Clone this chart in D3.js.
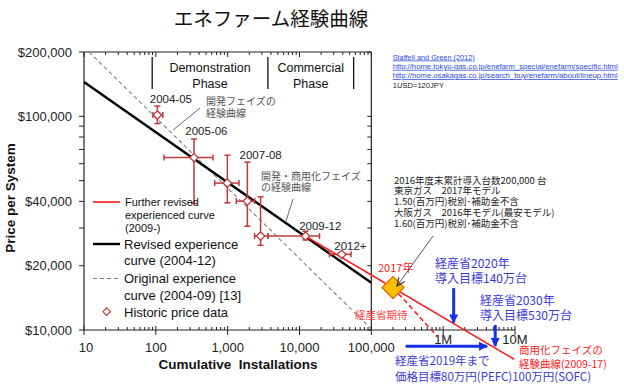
<!DOCTYPE html>
<html><head><meta charset="utf-8">
<script src="https://cdn.jsdelivr.net/npm/d3@7"></script>
<style>body{margin:0;background:#fff}svg{display:block}</style>
</head><body><svg id="c" width="624" height="389"></svg>
<script>
// ---------- DATA ----------
const histInstall   = [105, 340, 990, 1880, 2870, 12100, 38700];
const histPrice     = [101400, 64100, 48700, 40100, 27500, 27500, 22600];
const histInstallLo = [91, 130, 660, 1320, 2370, 3630, 26100];
const histInstallHi = [125, 625, 1435, 2370, 3630, 19000, 52200];
const histPriceLo   = [92500, 39100, 39400, 30600, 24900, 26400, 22200];
const histPriceHi   = [111700, 78300, 65800, 61000, 42000, 29000, 23000];
const yearLabels    = ["2004-05", "2005-06", "", "2007-08", "", "2009-12", "2012+"];

const revisedX  = [10, 100000];      const revisedY  = [144600, 16640];
const originalX = [10, 100000];      const originalY = [211000, 10100];
const furtherX  = [12100, 9700000];  const furtherY  = [27500, 7300];
const expectX   = [200000, 834000];  const expectY   = [15800, 9300];
const point2017 = [200000, 15800];

const phaseBounds = [89, 3630, 56700];
const phaseNames  = [["Demonstration", "Phase"], ["Commercial", "Phase"]];

const target2020Install = 1400000; const target2020From = 15700;
const target2030Install = 5300000; const target2030From = 10550;
const priceTarget2019 = 8400; const priceTargetX = [300000, 4100000];

const yTickVals = [10000, 20000, 40000, 100000, 200000];
const xTickVals = [10, 100, 1000, 10000, 100000];
const xExtTickVals = [1000000, 10000000];
const xExtTickLabels = ["1M", "10M"];

const infoLines = ["2016年度末累計導入台数200,000 台", "東京ガス　2017年モデル", "1.50(百万円)税別･補助金不含", "大阪ガス　2016年モデル(最安モデル)", "1.60(百万円)税別･補助金不含"];
const refLines = ["Staffell and Green (2012)", "http://home.tokyo-gas.co.jp/enefarm_special/enefarm/specific.html", "http://home.osakagas.co.jp/search_buy/enefarm/about/lineup.html"];

// ---------- CHART ----------
const svg = d3.select("#c");
const SANS = "'Liberation Sans', Arial, sans-serif";
const JP = "'Noto Sans CJK JP', sans-serif";
const x = d3.scaleLog().domain([10, 1e7]).range([84, 515]);
const y = d3.scaleLog().domain([1e4, 2e5]).range([330, 52]);
const X0 = x(10), X1 = x(1e5), Y0 = y(1e4), Y1 = y(2e5);
const red = "#ff1a1a", hist = "#c0393b", blueA = "#1530e8", blueT = "#3b3bd6";

const defs = svg.append("defs");
defs.append("clipPath").attr("id", "plot").append("rect")
  .attr("x", X0).attr("y", Y1).attr("width", X1 - X0).attr("height", Y0 - Y1);
defs.append("marker").attr("id", "bh").attr("viewBox", "0 0 10 10").attr("refX", 9).attr("refY", 5)
  .attr("markerWidth", 3).attr("markerHeight", 3.3).attr("orient", "auto")
  .append("path").attr("d", "M0,0L10,5L0,10Z").attr("fill", blueA);
defs.append("marker").attr("id", "gh").attr("viewBox", "0 0 10 10").attr("refX", 9).attr("refY", 5)
  .attr("markerWidth", 9).attr("markerHeight", 9).attr("markerUnits", "userSpaceOnUse").attr("orient", "auto")
  .append("path").attr("d", "M0,1L9,5L0,9").attr("fill", "none").attr("stroke", "#333").attr("stroke-width", 1.3);

// title
svg.append("text").attr("x", 271).attr("y", 26).attr("text-anchor", "middle")
  .attr("font-family", JP).attr("font-size", 19.5).attr("fill", "#111").text("エネファーム経験曲線");

// frame
const frame = svg.append("g").attr("stroke", "#222").attr("stroke-width", 1.2).attr("fill", "none");
frame.append("line").attr("x1", X0).attr("x2", X0).attr("y1", Y1).attr("y2", Y0);
frame.append("line").attr("x1", X0).attr("x2", X1).attr("y1", Y1).attr("y2", Y1);
frame.append("line").attr("x1", X1).attr("x2", X1).attr("y1", Y1).attr("y2", Y0);
frame.append("line").attr("x1", X0).attr("x2", x(1e7)).attr("y1", Y0).attr("y2", Y0);

// log ticks
const allX = [], allY = [];
for (let d = 10; d < 1e7; d *= 10) for (let k = 1; k < 10; k++) allX.push(d * k);
allX.push(1e7);
for (let d = 1e4; d < 2e5; d *= 10) for (let k = 1; k < 10; k++) if (d * k <= 2e5) allY.push(d * k);
const isMajX = v => Math.abs(Math.log10(v) - Math.round(Math.log10(v))) < 1e-9;
const tk = svg.append("g").attr("stroke", "#222").attr("stroke-width", 1);
allX.forEach(v => {
  const px = x(v), maj = isMajX(v);
  tk.append("line").attr("x1", px).attr("x2", px).attr("y1", Y0 + (maj ? 5 : 0)).attr("y2", Y0 - (maj ? 4 : 3));
  if (v <= 1e5) tk.append("line").attr("x1", px).attr("x2", px).attr("y1", Y1).attr("y2", Y1 + (maj ? 5 : 3));
});
allY.forEach(v => {
  const py = y(v);
  tk.append("line").attr("x1", X0 - 5).attr("x2", X0).attr("y1", py).attr("y2", py);
  tk.append("line").attr("x1", X1 - 4).attr("x2", X1).attr("y1", py).attr("y2", py);
});

// tick labels
const fmt = d3.format(",");
svg.append("g").selectAll("text").data(yTickVals).join("text")
  .attr("x", 72).attr("y", d => y(d)).attr("dy", "0.36em").attr("text-anchor", "end")
  .attr("font-family", SANS).attr("font-size", 13).attr("fill", "#222").text(d => "$" + fmt(d));
svg.append("g").selectAll("text").data(xTickVals).join("text")
  .attr("x", d => x(d) + (d === 10 ? 2 : 0)).attr("y", 352).attr("text-anchor", "middle")
  .attr("font-family", SANS).attr("font-size", 13).attr("fill", "#222").text(d => fmt(d));
svg.append("g").selectAll("text").data(xExtTickVals).join("text")
  .attr("x", d => x(d)).attr("y", 344).attr("text-anchor", "middle")
  .attr("font-family", SANS).attr("font-size", 13).attr("fill", "#222").text((d, i) => xExtTickLabels[i]);

// axis titles
svg.append("text").attr("x", 238).attr("y", 369).attr("text-anchor", "middle")
  .attr("font-family", SANS).attr("font-weight", "bold").attr("font-size", 13.5).attr("fill", "#111")
  .attr("xml:space", "preserve").text("Cumulative  Installations");
svg.append("text").attr("transform", "translate(15,198) rotate(-90)").attr("text-anchor", "middle")
  .attr("font-family", SANS).attr("font-weight", "bold").attr("font-size", 13.5).attr("fill", "#111")
  .text("Price per System");

// phase annotations
phaseBounds.forEach(v => svg.append("line").attr("x1", x(v)).attr("x2", x(v)).attr("y1", 57).attr("y2", 89)
  .attr("stroke", "#111").attr("stroke-width", 1.3));
phaseNames.forEach((lines, i) => {
  const cx = (x(phaseBounds[i]) + x(phaseBounds[i + 1])) / 2;
  lines.forEach((t, j) => svg.append("text").attr("x", cx).attr("y", 71.5 + j * 16).attr("text-anchor", "middle")
    .attr("font-family", SANS).attr("font-size", 12.5).attr("fill", "#111").text(t));
});

// curves
const line = d3.line().x(d => x(d[0])).y(d => y(d[1]));
svg.append("path").attr("clip-path", "url(#plot)").attr("d", line(d3.zip(originalX, originalY)))
  .attr("fill", "none").attr("stroke", "#808080").attr("stroke-width", 1.1).attr("stroke-dasharray", "4,3");
svg.append("path").attr("clip-path", "url(#plot)").attr("d", line(d3.zip(revisedX, revisedY)))
  .attr("fill", "none").attr("stroke", "#000").attr("stroke-width", 2.4);

// historic data with error bars
const hg = svg.append("g").attr("stroke", hist).attr("stroke-width", 1.5).attr("fill", "none");
histInstall.forEach((v, i) => {
  const px = x(v), py = y(histPrice[i]);
  const xl = x(histInstallLo[i]), xh = x(histInstallHi[i]), yl = y(histPriceLo[i]), yh = y(histPriceHi[i]);
  hg.append("line").attr("x1", xl).attr("x2", xh).attr("y1", py).attr("y2", py);
  hg.append("line").attr("x1", px).attr("x2", px).attr("y1", yl).attr("y2", yh);
  [xl, xh].forEach(e => hg.append("line").attr("x1", e).attr("x2", e).attr("y1", py - 3).attr("y2", py + 3));
  [yl, yh].forEach(e => hg.append("line").attr("x1", px - 3).attr("x2", px + 3).attr("y1", e).attr("y2", e));
});

// further revised red curve
svg.append("path").attr("d", line(d3.zip(furtherX, furtherY)))
  .attr("fill", "none").attr("stroke", red).attr("stroke-width", 1.6);

const diamond = (cx, cy, r) => `M${cx},${cy - r}L${cx + r},${cy}L${cx},${cy + r}L${cx - r},${cy}Z`;
histInstall.forEach((v, i) => svg.append("path").attr("d", diamond(x(v), y(histPrice[i]), 4.2))
  .attr("fill", "#fff").attr("stroke", hist).attr("stroke-width", 1.3));

// year labels
const labelOffsets = [[13.5, -12.2], [12.4, -22.3], [0, 0], [13.3, -42], [0, 0], [14.8, -6], [8.7, -4.3]];
yearLabels.forEach((t, i) => {
  if (!t) return;
  svg.append("text").attr("x", x(histInstall[i]) + labelOffsets[i][0]).attr("y", y(histPrice[i]) + labelOffsets[i][1])
    .attr("text-anchor", "middle").attr("font-family", SANS).attr("font-size", 11.5).attr("fill", "#222").text(t);
});

// japanese gray labels
const gl = (t, xx, yy) => svg.append("text").attr("x", xx).attr("y", yy).attr("font-family", JP)
  .attr("font-size", 10).attr("fill", "#555").text(t);
gl("開発フェイズの", 206, 105); gl("経験曲線", 206, 117);
gl("開発・商用化フェイズ", 261, 180); gl("の経験曲線", 261, 191);
svg.append("line").attr("x1", 200).attr("y1", 108).attr("x2", 173).attr("y2", 130).attr("stroke", "#444").attr("stroke-width", 0.8);
svg.append("line").attr("x1", 293).attr("y1", 199).attr("x2", 286).attr("y2", 221).attr("stroke", "#444").attr("stroke-width", 0.8);

// legend
const lg = svg.append("g").attr("font-family", SANS).attr("fill", "#111");
lg.append("line").attr("x1", 93).attr("x2", 120).attr("y1", 202).attr("y2", 202).attr("stroke", red).attr("stroke-width", 1.6);
["Further revised", "experienced curve", "(2009-)"].forEach((t, j) =>
  lg.append("text").attr("x", 125).attr("y", 205.5 + j * 13.3).attr("font-size", 11).text(t));
lg.append("line").attr("x1", 93).attr("x2", 120).attr("y1", 244).attr("y2", 244).attr("stroke", "#000").attr("stroke-width", 2.4);
["Revised experience", "curve (2004-12)"].forEach((t, j) =>
  lg.append("text").attr("x", 124).attr("y", 248.5 + j * 16.5).attr("font-size", 13).text(t));
lg.append("line").attr("x1", 93).attr("x2", 120).attr("y1", 278.5).attr("y2", 278.5).attr("stroke", "#808080")
  .attr("stroke-width", 1.1).attr("stroke-dasharray", "4,3");
["Original experience", "curve (2004-09) [13]"].forEach((t, j) =>
  lg.append("text").attr("x", 124).attr("y", 283 + j * 16.5).attr("font-size", 13).text(t));
lg.append("path").attr("d", diamond(106.7, 311.7, 3.8)).attr("fill", "#fff").attr("stroke", hist).attr("stroke-width", 1.2);
lg.append("text").attr("x", 124).attr("y", 316.5).attr("font-size", 13).text("Historic price data");

// expectation dashed line and 2017 point
svg.append("path").attr("d", line(d3.zip(expectX, expectY))).attr("fill", "none")
  .attr("stroke", red).attr("stroke-width", 1.5).attr("stroke-dasharray", "5,3");
svg.append("path").attr("d", diamond(x(point2017[0]), y(point2017[1]), 11))
  .attr("fill", "#ffc000").attr("stroke", "#e36c09").attr("stroke-width", 1.3);
svg.append("text").attr("x", 378).attr("y", 272).attr("font-family", JP).attr("font-size", 11).attr("fill", red).text("2017年");
svg.append("text").attr("x", 355).attr("y", 319).attr("font-family", JP).attr("font-size", 10.5).attr("fill", "#ff4040").text("経産省期待");

// info text block
infoLines.forEach((t, j) => svg.append("text").attr("x", 394).attr("y", 183.5 + j * 10.8)
  .attr("font-family", JP).attr("font-size", 9.5).attr("fill", "#222").text(t));
svg.append("line").attr("x1", 433).attr("y1", 236).attr("x2", 397).attr("y2", 286)
  .attr("stroke", "#444").attr("stroke-width", 0.9).attr("marker-end", "url(#gh)");

// references
const refW = [82, 225, 225];
refLines.forEach((t, j) => svg.append("text").attr("x", 392.7).attr("y", 59.5 + j * 9.3)
  .attr("font-family", SANS).attr("font-size", 7.6).attr("fill", "#2a4bd8").attr("text-decoration", "underline")
  .attr("textLength", refW[j]).attr("lengthAdjust", "spacingAndGlyphs").text(t));
svg.append("text").attr("x", 392.7).attr("y", 87.5).attr("font-family", SANS).attr("font-size", 7.6)
  .attr("fill", "#222").text("1USD=120JPY");

// blue targets
const furtherAt = v => {
  const t = (Math.log10(v) - Math.log10(furtherX[0])) / (Math.log10(furtherX[1]) - Math.log10(furtherX[0]));
  return Math.pow(10, Math.log10(furtherY[0]) + t * (Math.log10(furtherY[1]) - Math.log10(furtherY[0])));
};
const barrow = (x1, y1, x2, y2) => svg.append("line").attr("x1", x1).attr("y1", y1).attr("x2", x2).attr("y2", y2)
  .attr("stroke", blueA).attr("stroke-width", 3).attr("marker-end", "url(#bh)");
barrow(x(target2020Install), y(target2020From), x(target2020Install), y(furtherAt(target2020Install)) - 1);
barrow(x(target2030Install), y(target2030From), x(target2030Install), y(furtherAt(target2030Install)) - 2);
barrow(x(priceTargetX[0]), y(priceTarget2019), x(priceTargetX[1]), y(priceTarget2019));
const bt = (t, xx, yy, fs) => svg.append("text").attr("x", xx).attr("y", yy).attr("font-family", JP)
  .attr("font-size", fs).attr("fill", blueT).text(t);
bt("経産省2020年", 435, 267.5, 12); bt("導入目標140万台", 435, 282.5, 12);
bt("経産省2030年", 480, 304.5, 12); bt("導入目標530万台", 480, 319.5, 12);
bt("経産省2019年まで", 395, 364.5, 11.5); bt("価格目標80万円(PEFC)100万円(SOFC)", 395, 381, 11.5);
svg.append("text").attr("x", 519).attr("y", 354).attr("font-family", JP).attr("font-size", 10.5).attr("fill", red).text("商用化フェイズの");
svg.append("text").attr("x", 519).attr("y", 368).attr("font-family", JP).attr("font-size", 10.5).attr("fill", red).text("経験曲線(2009-17)");
</script></body></html>
